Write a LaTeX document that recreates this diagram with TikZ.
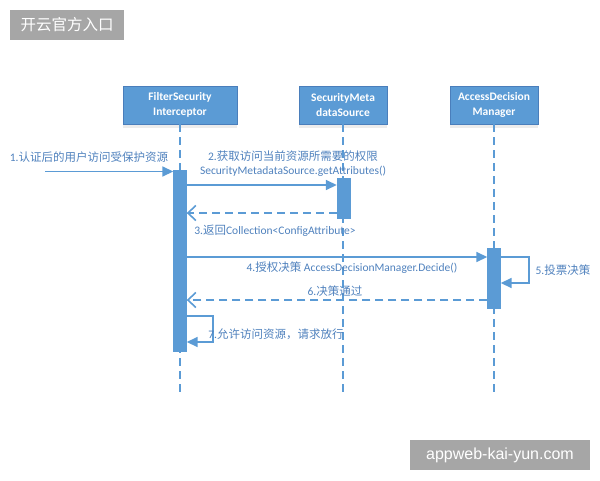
\documentclass[tikz,border=0pt]{standalone}
\usepackage{fontspec}
\setmainfont{Carlito}
\newfontfamily\cjk{Noto Sans CJK SC}
\newfontfamily\wmfont{Liberation Sans}
\usetikzlibrary{arrows.meta, positioning, shadows}
\definecolor{seqblue}{HTML}{5B9BD5}
\definecolor{seqedge}{HTML}{4A7EBB}
\definecolor{seqtext}{HTML}{4F81BD}
\definecolor{markgray}{HTML}{A6A6A6}

\begin{document}
\begin{tikzpicture}[x=1pt, y=-1pt,
    actor/.style={draw=seqedge, fill=seqblue, minimum height=38pt, align=center,
                  text=white, inner sep=1pt, font=\fontsize{11.5}{15}\selectfont\bfseries,
                  drop shadow={opacity=0.15, shadow xshift=0pt, shadow yshift=-4pt}},
    life/.style={seqblue, line width=1.3pt, dash pattern=on 8pt off 5pt},
    actbar/.style={fill=seqblue, draw=seqblue, minimum width=13pt, inner sep=0pt},
    call/.style={-{Triangle[length=11pt, width=10pt]}, line width=1.6pt, seqblue},
    reply/.style={-{Straight Barb[length=8pt, width=15pt]}, line width=1.6pt, seqblue,
                  dash pattern=on 8pt off 5pt},
    lbl/.style={text=seqtext, inner sep=1pt, font=\fontsize{11.5}{14}\selectfont},
    wmark/.style={fill=markgray, text=white, inner sep=0pt},
  ]
    \useasboundingbox (0,0) rectangle (600,480);

    % watermarks
    \node[wmark, minimum width=114pt, minimum height=30pt, font=\cjk\fontsize{15.5}{18}\selectfont]
      (wmtop) at (67,25) {开云官方入口};
    \node[wmark, minimum width=180pt, minimum height=30pt, font=\wmfont\fontsize{16}{19}\selectfont]
      (wmbot) at (500,455) {appweb-kai-yun.com};

    % participants
    \node[actor, minimum width=114pt] (fsi) at (180,105) {FilterSecurity\\Interceptor};
    \node[actor, minimum width=88pt]  (sms) at (343,105) {SecurityMeta\\dataSource};
    \node[actor, minimum width=88pt]  (adm) at (494,105) {AccessDecision\\Manager};

    \coordinate (bottom) at (0,392);
    \draw[life] (fsi.south) -- (fsi.south |- bottom);
    \draw[life] (sms.south) -- (sms.south |- bottom);
    \draw[life] (adm.south) -- (adm.south |- bottom);

    % activations
    \node[actbar, minimum height=181pt] (fsibar) at (180,260.5) {};
    \node[actbar, minimum height=40pt]  (smsbar) at (343.5,198) {};
    \node[actbar, minimum height=60pt]  (admbar) at (494,278) {};

    % message levels
    \coordinate (user) at (45,171.5);
    \coordinate (y2) at (0,185);
    \coordinate (y3) at (0,213);
    \coordinate (y4) at (0,257);
    \coordinate (y5) at (0,283);
    \coordinate (y6) at (0,300);
    \coordinate (y7) at (0,316);
    \coordinate (y7b) at (0,342);

    \draw[call]  (user) -- (fsibar.west |- user);
    \draw[call]  (fsibar.east |- y2) -- (smsbar.west |- y2);
    \draw[reply] (smsbar.west |- y3) -- (fsibar.east |- y3);
    \draw[call]  (fsibar.east |- y4) -- (admbar.west |- y4);
    \draw[call]  (admbar.east |- y4) -- ++(28,0) -- ++(0,26) -- (admbar.east |- y5);
    \draw[reply] (admbar.west |- y6) -- (fsibar.east |- y6);
    \draw[call]  (fsibar.east |- y7) -- ++(26,0) -- ++(0,26) -- (fsibar.east |- y7b);

    % labels
    \node[lbl] (l1) at (89,157) {1.{\cjk 认证后的用户访问受保护资源}};
    \node[lbl] (l2) at (293,156) {2.{\cjk 获取访问当前资源所需要的权限}};
    \node[lbl] (l2b) at (293,171) {SecurityMetadataSource.getAttributes()};
    \node[lbl] (l3) at (275,231) {3.{\cjk 返回}Collection<ConfigAttribute>};
    \node[lbl] (l4) at (352,268) {4.{\cjk 授权决策} AccessDecisionManager.Decide()};
    \node[lbl] (l5) at (563,270) {5.{\cjk 投票决策}};
    \node[lbl] (l6) at (335,291) {6.{\cjk 决策通过}};
    \node[lbl] (l7) at (276,334) {7.{\cjk 允许访问资源，请求放行}};
  \end{tikzpicture}
\end{document}
